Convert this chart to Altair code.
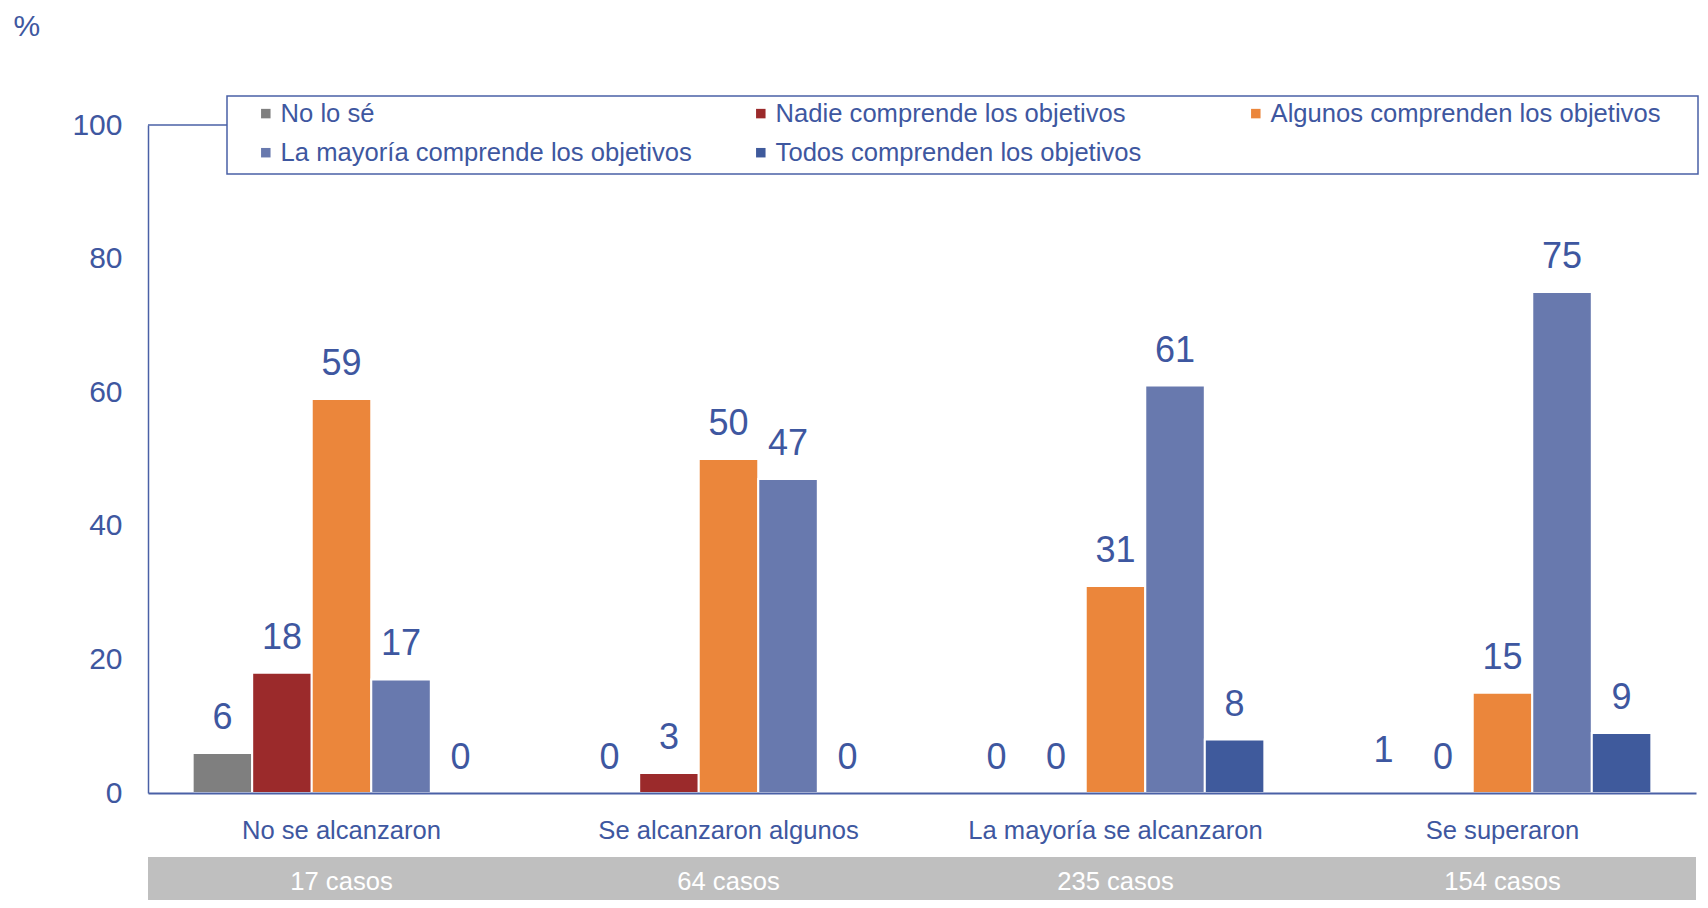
import altair as alt
import pandas as pd

# ---------------- data ----------------
categories = ["No se alcanzaron", "Se alcanzaron algunos", "La mayoría se alcanzaron", "Se superaron"]
casos = ["17 casos", "64 casos", "235 casos", "154 casos"]
series = [
    "No lo sé",
    "Nadie comprende los objetivos",
    "Algunos comprenden los objetivos",
    "La mayoría comprende los objetivos",
    "Todos comprenden los objetivos",
]
no_lo_se = [6, 0, 0, 1]
nadie = [18, 3, 0, 0]
algunos = [59, 50, 31, 15]
mayoria = [17, 47, 61, 75]
todos = [0, 0, 8, 9]
y_ticks = [0, 20, 40, 60, 80, 100]

colors = ["#7f7f7f", "#9b2a2b", "#eb863b", "#6879ae", "#3f5a9c"]
BLUE = "#3e57a0"
AXIS = "#4a60a6"
FONT = "Liberation Sans"

rows = []
for s, vals in zip(series, [no_lo_se, nadie, algunos, mayoria, todos]):
    for c, v in zip(categories, vals):
        rows.append({"cat": c, "serie": s, "value": v})
df = pd.DataFrame(rows)
casos_df = pd.DataFrame({"cat": categories, "casos": casos})
one = pd.DataFrame({"a": [0]})

x_enc = alt.X(
    "cat:N",
    sort=categories,
    scale=alt.Scale(domain=categories, paddingInner=0, paddingOuter=0),
    axis=alt.Axis(
        title=None,
        labelAngle=0,
        labelAlign="center",
        labelLimit=600,
        labelFont=FONT,
        labelFontSize=25.6,
        labelColor=BLUE,
        labelPadding=37,
        ticks=False,
        tickSize=0,
        domainColor=AXIS,
        domainWidth=2,
        grid=False,
    ),
)
xoff = alt.XOffset(
    "serie:N",
    sort=series,
    scale=alt.Scale(domain=series, paddingInner=0, paddingOuter=0.75),
)
y_enc = alt.Y(
    "value:Q",
    scale=alt.Scale(domain=[0, 100], nice=False),
    axis=alt.Axis(
        values=y_ticks,
        title="%",
        titleAngle=0,
        titleX=-135,
        titleY=-90,
        titleAlign="left",
        titleBaseline="alphabetic",
        titleFont=FONT,
        titleFontSize=30,
        titleFontWeight="normal",
        titleColor=BLUE,
        labelFont=FONT,
        labelFontSize=30,
        labelColor=BLUE,
        labelPadding=26,
        ticks=False,
        tickSize=0,
        grid=False,
        domainColor=AXIS,
        domainWidth=1.5,
    ),
)

color_field = alt.Color(
    "serie:N",
    sort=series,
    scale=alt.Scale(domain=series, range=colors),
    legend=alt.Legend(
        title=None,
        orient="none",
        direction="horizontal",
        legendX=105,
        legendY=-24.5,
        columns=3,
        gridAlign="all",
        columnPadding=56,
        rowPadding=12.4,
        padding=0,
        symbolType="square",
        symbolSize=90,
        symbolStrokeWidth=0,
        labelOffset=2,
        labelFont=FONT,
        labelFontSize=25.6,
        labelColor=BLUE,
        labelLimit=700,
    ),
)

bars = (
    alt.Chart(df)
    .transform_filter("datum.value > 0")
    .mark_bar(stroke="white", strokeWidth=2, cornerRadius=0)
    .encode(
        x=x_enc,
        xOffset=xoff,
        y=y_enc,
        color=alt.condition("datum.value < 2", alt.value("white"), color_field),
    )
)

labels = (
    alt.Chart(df)
    .mark_text(font=FONT, fontSize=36, color=BLUE, baseline="alphabetic", dy=-24)
    .encode(
        x=alt.X("cat:N", sort=categories),
        xOffset=alt.XOffset("serie:N", sort=series),
        y=alt.Y("value:Q"),
        text=alt.Text("value:Q", format="d"),
    )
)

band = (
    alt.Chart(casos_df)
    .mark_rect(color="#bfbfbf")
    .encode(
        x=alt.X("cat:N", sort=categories),
        y=alt.value(732),
        y2=alt.value(790),
    )
)

casos_text = (
    alt.Chart(casos_df)
    .mark_text(font=FONT, fontSize=25.6, color="white", baseline="middle")
    .encode(
        x=alt.X("cat:N", sort=categories),
        y=alt.value(757),
        text="casos:N",
    )
)

legend_box = (
    alt.Chart(one)
    .mark_rect(fill="transparent", stroke=AXIS, strokeWidth=1.5)
    .encode(x=alt.value(79), x2=alt.value(1550), y=alt.value(-29), y2=alt.value(49))
)

connector = (
    alt.Chart(one)
    .mark_rule(color=AXIS, strokeWidth=1.5)
    .encode(x=alt.value(0), x2=alt.value(79), y=alt.value(0))
)

chart = (
    alt.layer(band, casos_text, legend_box, connector, bars, labels)
    .properties(
        width=1548,
        height=668,
        padding={"left": 140, "top": 117, "right": 4, "bottom": 107},
        autosize="none",
    )
    .configure_view(stroke=None)
)

chart.save("out.html", embed_options={"renderer": "svg", "actions": False})
